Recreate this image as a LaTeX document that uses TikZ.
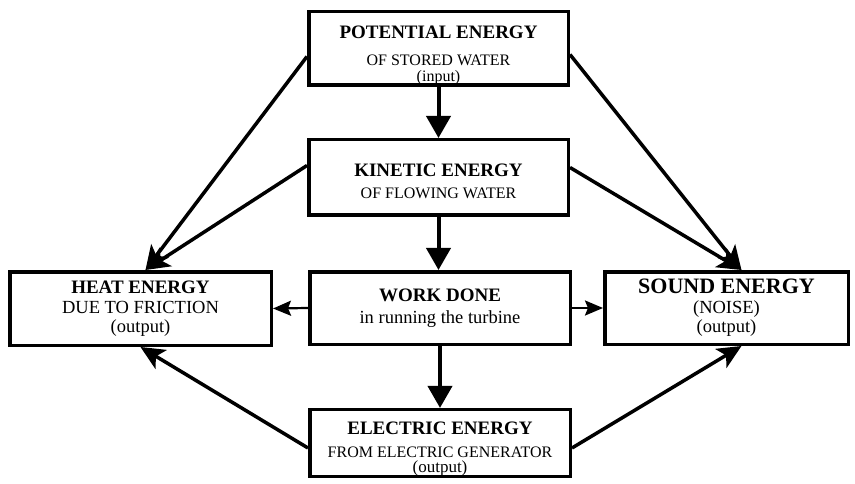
\documentclass[tikz,border=0pt]{standalone}
\usepackage{fontspec}
\setmainfont{Liberation Serif}
\usetikzlibrary{positioning, arrows.meta}
\newcommand{\boxtitle}[1]{{\fontsize{19}{20}\selectfont\bfseries #1}}
\tikzset{
  ebox/.style={draw=black,line width=3.5pt,fill=white,inner sep=0pt,
    align=center,font=\fontsize{16}{20}\selectfont},
  big/.style={font=\fontsize{18.5}{20}\selectfont},
  arr/.style={-{Stealth[length=24pt,width=22pt,inset=6pt]},line width=3.5pt},
  down/.style={-{Triangle[length=22pt,width=24pt]},line width=4pt},
  side/.style={-{Stealth[length=18pt,width=15pt,inset=3pt]},line width=2.2pt},
}

\begin{document}
\begin{tikzpicture}[x=1pt,y=-1pt]
  \useasboundingbox (0,0) rectangle (855,484);
  \node[ebox,minimum width=259.5pt,minimum height=73.5pt] (pe) at (438.5,48.5)
    {\rule{0pt}{26pt}\boxtitle{POTENTIAL ENERGY}\\[7pt]OF STORED WATER\\[-4pt](input)};
  \node[ebox,minimum width=259.5pt,minimum height=75.5pt] (ke) at (438.5,177.5)
    {\rule{0pt}{20pt}\boxtitle{KINETIC ENERGY}\\[2pt]OF FLOWING WATER};
  \node[ebox,big,minimum width=260.5pt,minimum height=72.5pt] (wd) at (440,308)
    {\boxtitle{WORK DONE}\\[2pt]in running the turbine};
  \node[ebox,big,minimum width=261.5pt,minimum height=73.5pt] (heat) at (140.5,308.5)
    {\boxtitle{HEAT ENERGY}\\[0pt]DUE TO FRICTION\\[-1pt](output)};
  \node[ebox,big,minimum width=243.5pt,minimum height=72.5pt] (sound) at (726.5,308)
    {{\fontsize{22}{20}\selectfont\bfseries SOUND ENERGY}\\[0pt](NOISE)\\[-1pt](output)};
  \node[ebox,minimum width=260.5pt,minimum height=66.5pt] (ee) at (440,443)
    {\rule{0pt}{25pt}\boxtitle{ELECTRIC ENERGY}\\[3pt]FROM ELECTRIC GENERATOR\\[-5pt]{\fontsize{17}{20}\selectfont(output)}};

  \draw[down] (pe.south) -- (ke.north);
  \draw[down] (ke.south) -- (ke.south |- wd.north);
  \draw[down] (wd.south) -- (wd.south |- ee.north);
  \draw[side] (wd.west) -- (heat.east);
  \draw[side] (wd.east) -- (sound.west);

  \draw[arr] ([yshift=-8pt]pe.west) -- ([xshift=5pt]heat.north);
  \draw[arr] ([yshift=12pt]ke.west) -- ([xshift=5pt]heat.north);
  \draw[arr] ([yshift=-6pt]pe.east) -- ([xshift=15pt]sound.north);
  \draw[arr] ([yshift=10pt]ke.east) -- ([xshift=15pt]sound.north);
  \draw[arr] ([yshift=-5pt]ee.west) -- (heat.south);
  \draw[arr] ([yshift=-5pt]ee.east) -- ([xshift=15pt]sound.south);
\end{tikzpicture}
\end{document}
